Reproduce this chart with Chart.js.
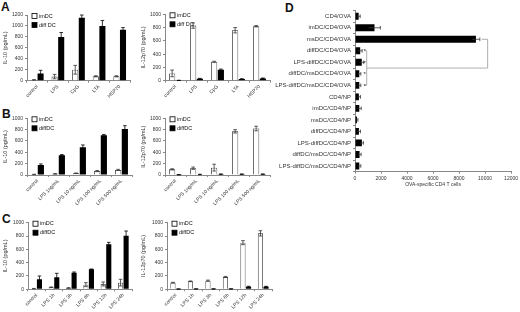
<!DOCTYPE html>
<html>
<head>
<meta charset="utf-8">
<script src="https://cdn.jsdelivr.net/npm/chart.js@4.4.0/dist/chart.umd.min.js"></script>
<style>
  body { margin: 0; background: #fff; width: 520px; height: 312px; position: relative; overflow: hidden; font-family: Arial, "Liberation Sans", sans-serif; }
  canvas { position: absolute; }
  .tag { position: absolute; font-weight: bold; font-size: 12px; line-height: 12px; color: #111; }
</style>
</head>
<body>
<div class="tag" style="left:1px;top:1px">A</div>
<div class="tag" style="left:2px;top:108px">B</div>
<div class="tag" style="left:2px;top:213px">C</div>
<div class="tag" style="left:285px;top:2px">D</div>

<canvas id="a1" width="134" height="104" style="left:0;top:0"></canvas>
<canvas id="a2" width="134" height="104" style="left:138px;top:0"></canvas>
<canvas id="b1" width="134" height="110" style="left:0;top:100px"></canvas>
<canvas id="b2" width="134" height="110" style="left:138px;top:100px"></canvas>
<canvas id="c1" width="134" height="107" style="left:0;top:205px"></canvas>
<canvas id="c2" width="136" height="107" style="left:138px;top:205px"></canvas>
<canvas id="d" width="250" height="195" style="left:270px;top:0"></canvas>

<script>
// ---- data ----
const catsA = ['control', 'LPS', 'CpG', 'LTA', 'HSP70'];
const catsB = ['control', 'LPS 1ng/mL', 'LPS 10 ng/mL', 'LPS 100 ng/mL', 'LPS 500 ng/mL'];
const catsC = ['control', 'LPS 1h', 'LPS 3h', 'LPS 6h', 'LPS 12h', 'LPS 24h'];

// A: IL-10
const a10Im = [15, 75, 200, 80, 80];
const a10ImErr = [5, 40, 80, 10, 10];
const a10Diff = [130, 800, 1150, 1000, 930];
const a10DiffErr = [60, 80, 50, 100, 40];
// A: IL-12p70
const a12Im = [110, 830, 285, 760, 820];
const a12ImErr = [50, 40, 8, 40, 10];
const a12Diff = [5, 30, 165, 25, 35];
const a12DiffErr = [2, 5, 10, 5, 5];

// B: IL-10
const b10Im = [10, 20, 30, 70, 90];
const b10ImErr = [3, 5, 5, 10, 10];
const b10Diff = [175, 350, 490, 700, 810];
const b10DiffErr = [20, 10, 40, 15, 60];
// B: IL-12p70
const b12Im = [100, 120, 130, 770, 820];
const b12ImErr = [10, 20, 60, 30, 40];
const b12Diff = [5, 10, 15, 15, 15];
const b12DiffErr = [2, 3, 3, 3, 3];

// C: IL-10
const c10Im = [10, 30, 20, 70, 80, 100];
const c10ImErr = [3, 5, 5, 30, 30, 50];
const c10Diff = [150, 180, 250, 300, 675, 805];
const c10DiffErr = [50, 60, 10, 5, 30, 70];
// C: IL-12p70
const c12Im = [100, 120, 130, 185, 700, 840];
const c12ImErr = [5, 5, 8, 8, 30, 40];
const c12Diff = [3, 5, 5, 5, 40, 40];
const c12DiffErr = [1, 1, 1, 1, 5, 5];

const yTicksA10 = { max: 1200, step: 200 };
const yTicks1000 = { max: 1000, step: 200 };

// D: OVA-specific CD4 T cells
const catsD = ['CD4/OVA', 'imDC/CD4/OVA', 'msDC/CD4/OVA', 'diffDC/CD4/OVA', 'LPS-diffDC/CD4/OVA',
  'diffDC/msDC/CD4/OVA', 'LPS-diffDC/msDC/CD4/OVA', 'CD4/NP', 'imDC/CD4/NP', 'msDC/CD4/NP',
  'diffDC/CD4/NP', 'LPS-diffDC/CD4/NP', 'diffDC/msDC/CD4/NP', 'LPS-diffDC/msDC/CD4/NP'];
const dVals = [280, 1500, 9300, 400, 520, 330, 330, 300, 330, 150, 300, 530, 350, 330];
const dErr = [120, 450, 300, 150, 150, 120, 120, 120, 150, 80, 120, 120, 120, 120];
const dTicks = { max: 12000, step: 2000 };

Chart.defaults.font.family = 'Arial, "Liberation Sans", sans-serif';
Chart.defaults.font.size = 5;
Chart.defaults.color = '#333';
const AXIS = '#888';
const plain = v => String(v);

// error bars (value +/- err) drawn from the bar's own scale
const errorBars = {
  id: 'errorBars',
  afterDatasetsDraw(chart) {
    const ctx = chart.ctx;
    const horiz = chart.options.indexAxis === 'y';
    const vs = horiz ? chart.scales.x : chart.scales.y;
    chart.data.datasets.forEach((ds, di) => {
      if (!ds.errors) return;
      const meta = chart.getDatasetMeta(di);
      meta.data.forEach((bar, i) => {
        const v = ds.data[i], e = ds.errors[i];
        const hi = vs.getPixelForValue(v + e);
        const lo = vs.getPixelForValue(Math.max(0, v - e));
        const cap = 1.8;
        ctx.save();
        ctx.strokeStyle = ds.errColor || '#222';
        ctx.lineWidth = 0.8;
        ctx.beginPath();
        if (horiz) {
          ctx.moveTo(lo, bar.y); ctx.lineTo(hi, bar.y);
          ctx.moveTo(hi, bar.y - cap); ctx.lineTo(hi, bar.y + cap);
        } else {
          ctx.moveTo(bar.x, lo); ctx.lineTo(bar.x, hi);
          ctx.moveTo(bar.x - cap, hi); ctx.lineTo(bar.x + cap, hi);
          ctx.moveTo(bar.x - cap, lo); ctx.lineTo(bar.x + cap, lo);
        }
        ctx.stroke();
        ctx.restore();
      });
    });
  }
};

// little legend box in the top-left of the plot
const miniLegend = {
  id: 'miniLegend',
  afterDraw(chart) {
    const ctx = chart.ctx;
    const a = chart.chartArea;
    const x = a.left + 5, y = a.top + 1;
    chart.data.datasets.forEach((ds, i) => {
      const yy = y + i * 9;
      ctx.save();
      ctx.fillStyle = ds.backgroundColor;
      ctx.strokeStyle = '#000';
      ctx.lineWidth = 0.8;
      ctx.fillRect(x, yy - 2.5, 5, 5);
      ctx.strokeRect(x, yy - 2.5, 5, 5);
      ctx.fillStyle = '#111';
      ctx.font = '5.5px Arial, "Liberation Sans", sans-serif';
      ctx.textBaseline = 'middle';
      ctx.fillText(ds.label, x + 7, yy);
      ctx.restore();
    });
  }
};

function barChart(id, cats, im, imErr, diff, diffErr, ticks, yTitle, names, lay) {
  return new Chart(document.getElementById(id), {
    type: 'bar',
    data: {
      labels: cats,
      datasets: [
        { label: names[0], data: im, errors: imErr, backgroundColor: '#fff', borderColor: '#222', borderWidth: 0.8,
          categoryPercentage: 0.64, barPercentage: 0.92, errColor: '#333' },
        { label: names[1], data: diff, errors: diffErr, backgroundColor: '#000', borderColor: '#000', borderWidth: 0,
          categoryPercentage: 0.64, barPercentage: 0.92, errColor: '#000' }
      ]
    },
    options: {
      responsive: false,
      animation: false,
      layout: { padding: { top: lay.top, right: lay.right, left: 0, bottom: 0 } },
      plugins: { legend: { display: false }, tooltip: { enabled: false } },
      scales: {
        x: {
          grid: { drawOnChartArea: false, tickLength: 2, color: AXIS },
          border: { color: AXIS },
          ticks: { autoSkip: false, minRotation: 45, maxRotation: 45, padding: 1 },
          afterFit: s => { s.height = lay.xh; }
        },
        y: {
          min: 0, max: ticks.max,
          grid: { drawOnChartArea: false, tickLength: 2, color: AXIS },
          border: { color: AXIS },
          ticks: { stepSize: ticks.step, padding: 2, callback: plain },
          title: { display: true, text: yTitle, padding: { top: 2, bottom: 0 }, font: { size: 5.5 } },
          afterFit: s => { s.width = lay.yw; }
        }
      }
    },
    plugins: [errorBars, miniLegend]
  });
}

barChart('a1', catsA, a10Im, a10ImErr, a10Diff, a10DiffErr, yTicksA10, 'IL-10 (pg/mL)', ['imDC', 'diff DC'],
  { top: 15, right: 4, xh: 23.3, yw: 27 });
barChart('a2', catsA, a12Im, a12ImErr, a12Diff, a12DiffErr, yTicks1000, 'IL-12p70 (pg/mL)', ['imDC', 'diff DC'],
  { top: 14.3, right: 2, xh: 23.3, yw: 27 });
barChart('b1', catsB, b10Im, b10ImErr, b10Diff, b10DiffErr, yTicks1000, 'IL-10 (pg/mL)', ['imDC', 'diffDC'],
  { top: 18.3, right: 2, xh: 35, yw: 27 });
barChart('b2', catsB, b12Im, b12ImErr, b12Diff, b12DiffErr, yTicks1000, 'IL-12p70 (pg/mL)', ['imDC', 'diffDC'],
  { top: 18.3, right: 2, xh: 35, yw: 27 });
barChart('c1', catsC, c10Im, c10ImErr, c10Diff, c10DiffErr, yTicks1000, 'IL-10 (pg/mL)', ['imDC', 'diffDC'],
  { top: 17.7, right: 2, xh: 22.7, yw: 28 });
barChart('c2', catsC, c12Im, c12ImErr, c12Diff, c12DiffErr, yTicks1000, 'IL-12p70 (pg/mL)', ['imDC', 'diffDC'],
  { top: 17.7, right: 2, xh: 22.7, yw: 29 });

// significance bracket and asterisks for panel D
const bracket = {
  id: 'bracket',
  afterDatasetsDraw(chart) {
    const ctx = chart.ctx, xs = chart.scales.x, ys = chart.scales.y;
    const xl = xs.getPixelForValue(900), xr = xs.getPixelForValue(10200), xe = xs.getPixelForValue(9750);
    const y3 = ys.getPixelForValue(3), y6 = ys.getPixelForValue(6), y2 = ys.getPixelForValue(2);
    const ym = (ys.getPixelForValue(4) + ys.getPixelForValue(5)) / 2;
    ctx.save();
    ctx.strokeStyle = '#999';
    ctx.lineWidth = 0.8;
    ctx.beginPath();
    ctx.moveTo(xl - 2, y3); ctx.lineTo(xl, y3); ctx.lineTo(xl, y6); ctx.lineTo(xl - 2, y6);
    ctx.moveTo(xl, ym); ctx.lineTo(xr, ym); ctx.lineTo(xr, y2); ctx.lineTo(xe, y2);
    ctx.stroke();
    ctx.fillStyle = '#222';
    ctx.font = '6px Arial, "Liberation Sans", sans-serif';
    ctx.textBaseline = 'middle';
    for (let i = 3; i <= 6; i++) ctx.fillText('*', xs.getPixelForValue(650), ys.getPixelForValue(i) + 1);
    ctx.restore();
  }
};

new Chart(document.getElementById('d'), {
  type: 'bar',
  data: {
    labels: catsD,
    datasets: [{ label: 'OVA-specific CD4 T cells', data: dVals, errors: dErr, backgroundColor: '#000',
      borderWidth: 0, categoryPercentage: 1, barPercentage: 0.6, errColor: '#333' }]
  },
  options: {
    indexAxis: 'y',
    responsive: false,
    animation: false,
    layout: { padding: { top: 10.5, right: 7, left: 0, bottom: 7 } },
    plugins: { legend: { display: false }, tooltip: { enabled: false } },
    scales: {
      x: {
        min: 0, max: dTicks.max,
        grid: { drawOnChartArea: false, tickLength: 2, color: AXIS },
        border: { color: AXIS },
        ticks: { stepSize: dTicks.step, padding: 2, callback: plain },
        title: { display: true, text: 'OVA-specific CD4 T cells', padding: { top: 0, bottom: 0 }, font: { size: 5 } },
        afterFit: s => { s.height = 16.3; }
      },
      y: {
        grid: { drawOnChartArea: false, tickLength: 2, color: AXIS },
        border: { color: AXIS },
        ticks: { autoSkip: false, padding: 2, font: { size: 6 } },
        afterFit: s => { s.width = 85; }
      }
    }
  },
  plugins: [errorBars, bracket]
});
</script>
</body>
</html>
